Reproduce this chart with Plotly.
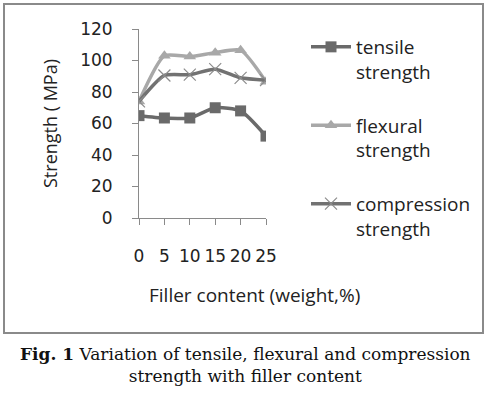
import plotly.graph_objects as go

filler = [0, 5, 10, 15, 20, 25]
tensile = [65, 63.5, 63.5, 70, 68, 52]
flexural = [74, 103, 102.5, 105, 106.5, 86.5]
compression = [74, 90.5, 91, 94.5, 89, 87.5]
y_ticks = [0, 20, 40, 60, 80, 100, 120]

L, R, T, B = 139, 224, 29, 180
W, H = 490, 398
pw, ph = W - L - R, H - T - B

def px(x):
    return (x - L) / pw

def py(y):
    return (H - B - y) / ph

fig = go.Figure()
fig.add_trace(go.Scatter(
    x=filler, y=tensile, name="tensile<br>strength", legendgroup="a",
    mode="lines+markers", line=dict(color="#6a6a6a", width=3.5, shape="spline", smoothing=0.6),
    marker=dict(symbol="square", size=11, color="#6a6a6a")))
fig.add_trace(go.Scatter(
    x=filler, y=flexural, name="flexural<br>strength", legendgroup="b",
    mode="lines+markers", line=dict(color="#a8a8a8", width=3.5, shape="spline", smoothing=0.6),
    marker=dict(symbol="triangle-up", size=11, color="#a8a8a8")))
fig.add_trace(go.Scatter(
    x=filler, y=compression, name="compression<br>strength", legendgroup="c",
    mode="lines+markers", line=dict(color="#727272", width=3.5, shape="spline", smoothing=0.6),
    marker=dict(symbol="x-thin", size=12, line=dict(color="#8c8c8c", width=1.2))))

font = "Open Sans"
tickfont = dict(family="DejaVu Sans", size=17, color="#222222")
fig.update_layout(
    width=W, height=H,
    margin=dict(l=L, r=R, t=T, b=B),
    paper_bgcolor="white", plot_bgcolor="white",
    font=dict(family=font, size=18, color="#222222"),
    legend=dict(x=px(306), y=py(28), xanchor="left", yanchor="top",
                traceorder="grouped", tracegroupgap=26, valign="top",
                font=dict(family=font, size=19, color="#222222"),
                itemwidth=40, bgcolor="rgba(0,0,0,0)", maxheight=390),
    xaxis=dict(range=[0, 25], tickvals=filler, ticktext=[str(v) for v in filler],
               showgrid=False, zeroline=False, showline=True, linecolor="#8a8a8a",
               linewidth=1, ticks="outside", ticklen=6, tickcolor="#8a8a8a",
               ticklabelstandoff=17, tickfont=tickfont),
    yaxis=dict(range=[0, 120], tickvals=y_ticks, showgrid=False, zeroline=False,
               showline=True, linecolor="#8a8a8a", linewidth=1, ticks="outside",
               ticklen=6, tickcolor="#8a8a8a", ticklabelstandoff=16,
               tickfont=tickfont),
    shapes=[dict(type="rect", xref="paper", yref="paper",
                 x0=px(4), x1=px(483), y0=py(333), y1=py(4),
                 line=dict(color="#8a8a8a", width=2), fillcolor="rgba(0,0,0,0)")],
    annotations=[
        dict(text="Strength ( MPa)", xref="paper", yref="paper", x=px(50), y=py(124),
             textangle=-90, showarrow=False, xanchor="center", yanchor="middle",
             font=dict(family=font, size=18)),
        dict(text="Filler content (weight,%)", xref="paper", yref="paper", x=px(254), y=py(295),
             showarrow=False, xanchor="center", yanchor="middle",
             font=dict(family=font, size=19)),
        dict(text="<b>Fig. 1</b> Variation of tensile, flexural and compression<br>strength with filler content",
             xref="paper", yref="paper", x=px(245), y=py(365), showarrow=False,
             xanchor="center", yanchor="middle", align="center",
             font=dict(family="DejaVu Serif", size=17, color="#111111")),
    ],
)

fig.write_html("out.html", config={"displayModeBar": False},
               post_script="document.body.style.margin='0';")
